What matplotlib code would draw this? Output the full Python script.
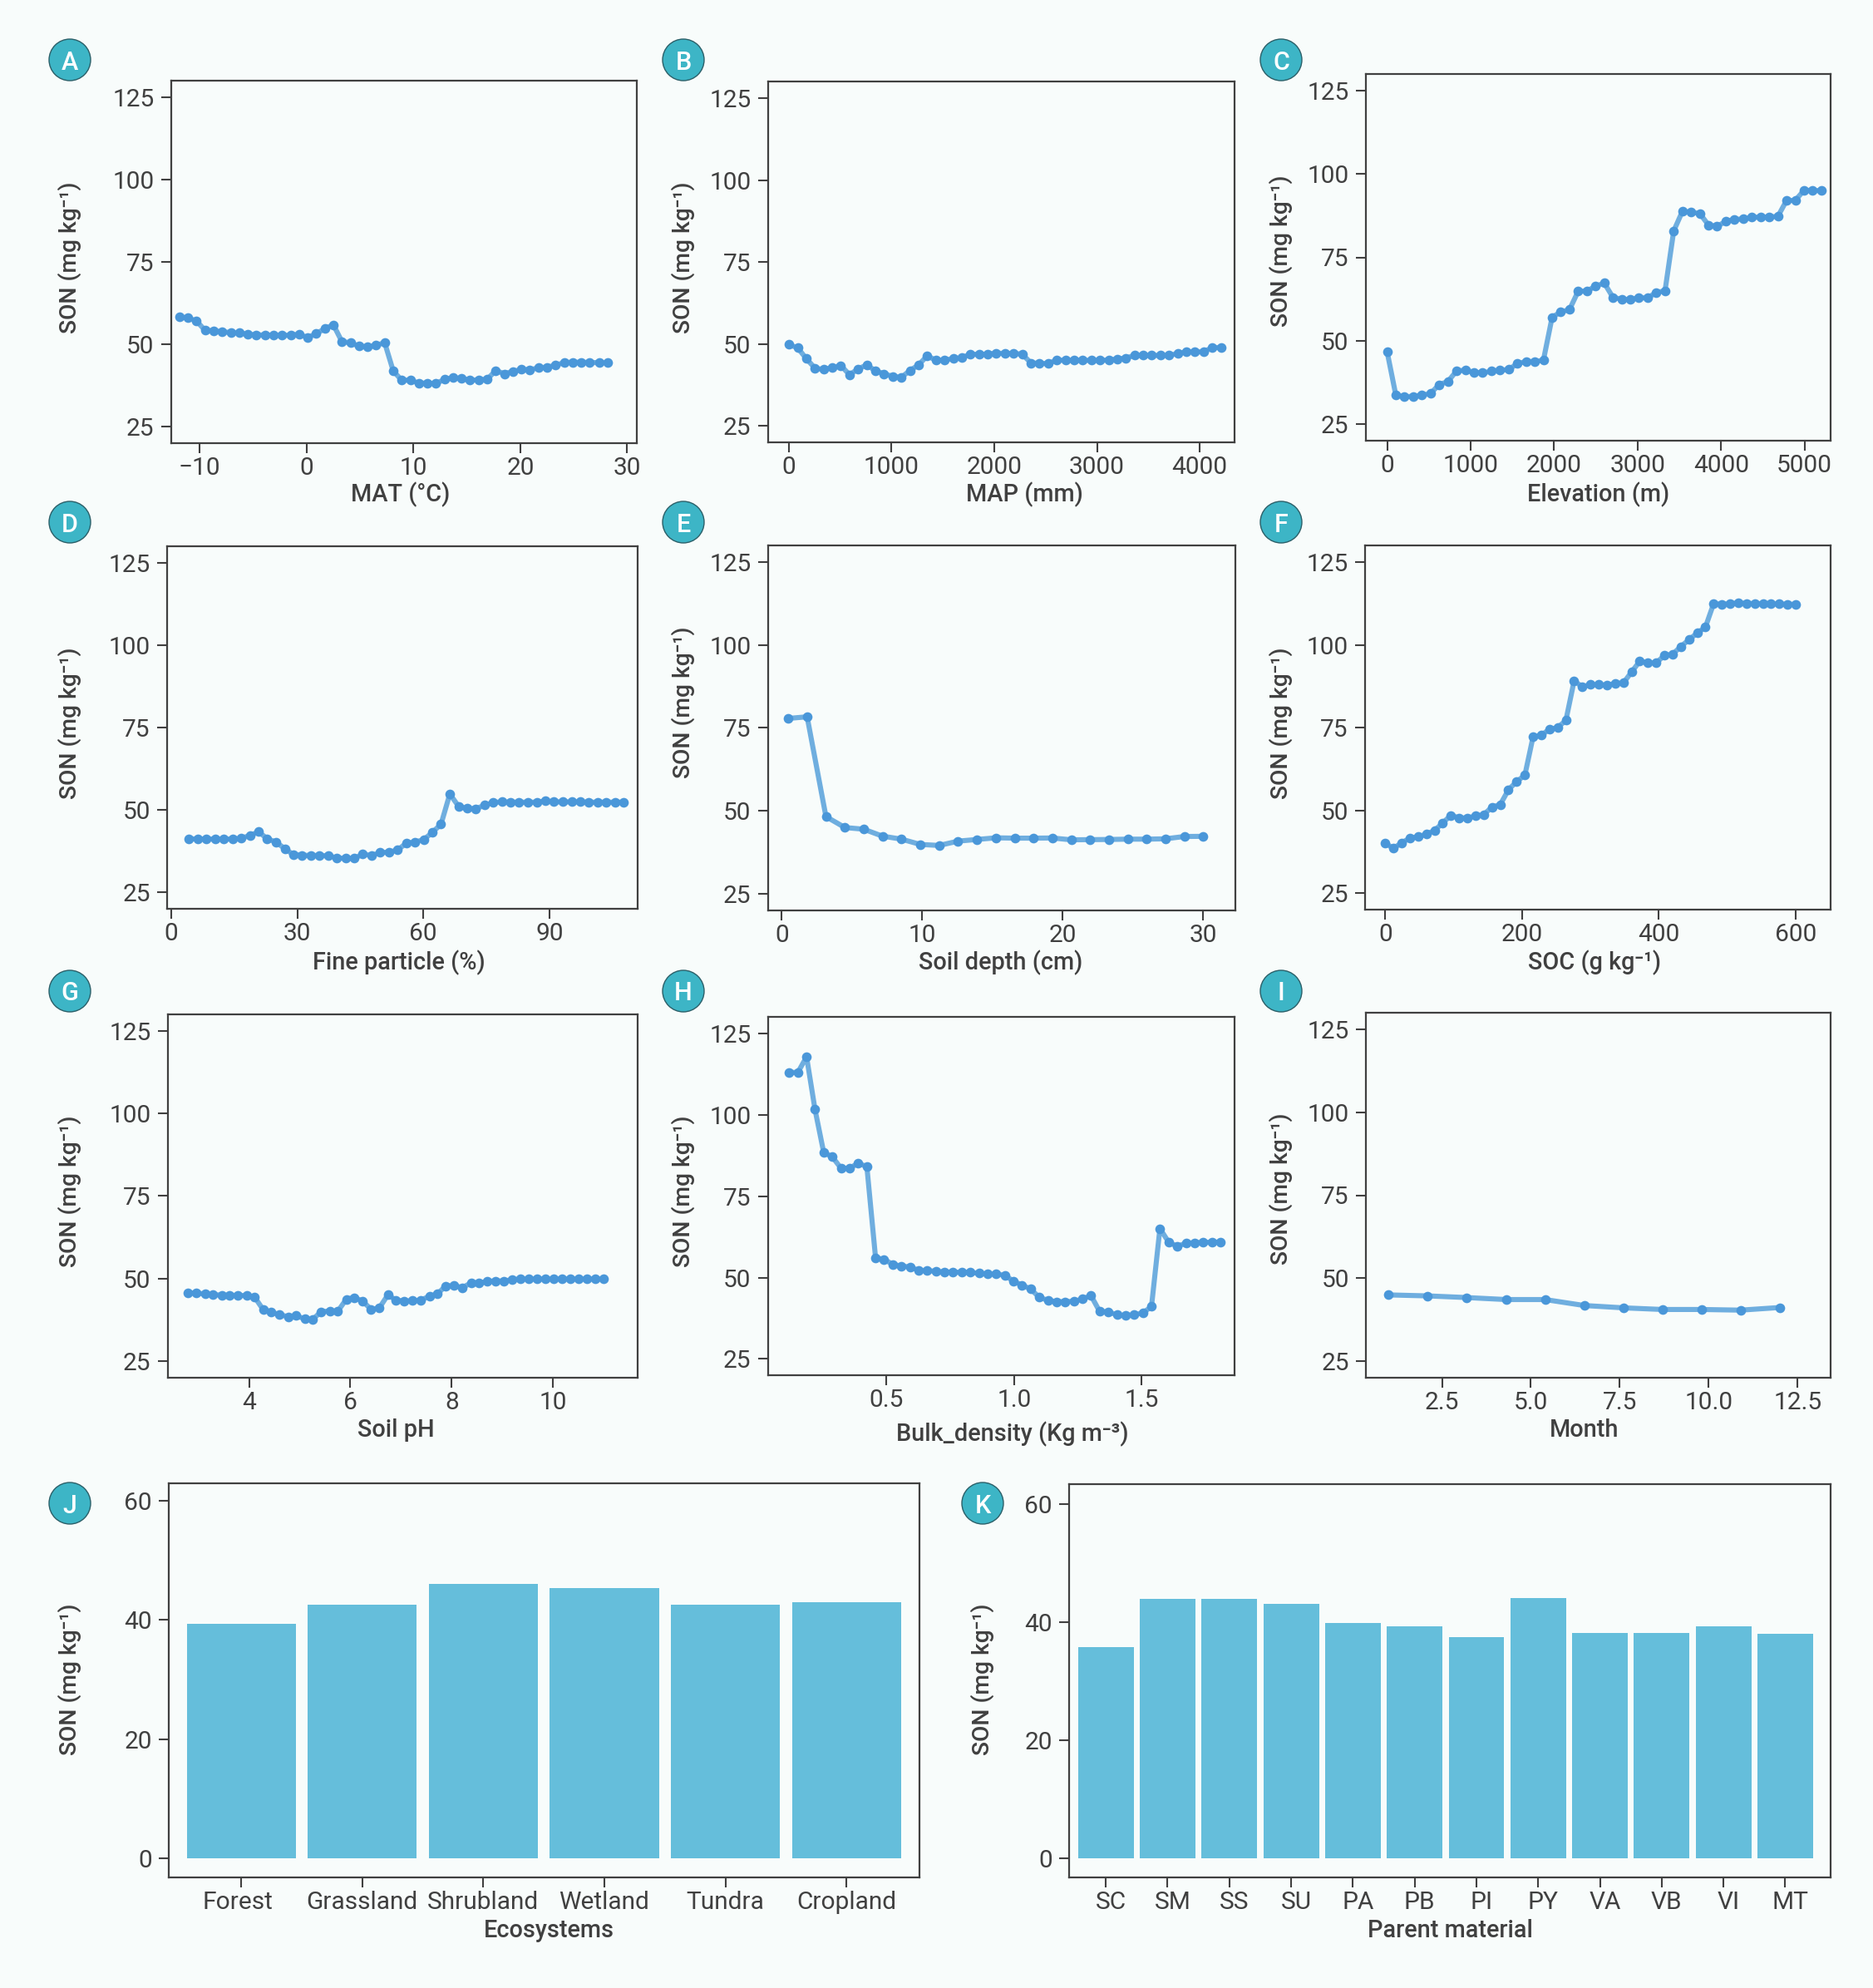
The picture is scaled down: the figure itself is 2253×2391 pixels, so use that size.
import matplotlib
matplotlib.use("Agg")
import matplotlib.pyplot as plt
from matplotlib.patches import Ellipse
from matplotlib.transforms import ScaledTranslation

W, H = 2253, 2391
BG = "#F8FCFB"
INK = "#404040"
LINE = "#6FAEDF"
DOT = "#4A97D9"
BAR = "#65BEDB"
TEAL = "#3DB5C6"

plt.rcParams["font.family"] = ["Roboto", "DejaVu Sans"]

mat_x = [-11.9,-11.1,-10.3,-9.5,-8.7,-7.9,-7.1,-6.3,-5.5,-4.7,-3.9,-3.1,-2.3,-1.5,-0.7,0.1,0.9,1.7,2.5,3.3,4.1,4.9,5.7,6.5,7.3,8.1,8.9,9.7,10.5,11.3,12.1,12.9,13.7,14.5,15.3,16.1,16.9,17.7,18.5,19.3,20.1,20.9,21.7,22.5,23.3,24.1,24.9,25.7,26.5,27.4,28.2]
mat_y = [58.2,58,57,54.2,54,53.8,53.5,53.4,53,52.8,52.8,52.7,52.7,52.7,53,52,53.2,54.7,55.9,50.8,50.4,49.4,49.2,49.6,50.5,41.9,39,39.1,38.1,38.2,38,39.3,39.8,39.6,39,39.2,39.3,42,41,41.7,42.3,42.2,42.8,43,43.6,44.4,44.5,44.5,44.4,44.4,44.3]

map_x = [5,89,173,257,341,425,509,593,677,761,845,929,1013,1097,1181,1265,1349,1433,1517,1601,1685,1769,1853,1937,2021,2105,2189,2273,2357,2441,2525,2609,2693,2777,2861,2945,3029,3113,3197,3281,3365,3449,3533,3617,3701,3785,3869,3953,4037,4121,4205]
map_y = [49.8,48.8,45.5,42.6,42.2,42.8,43.4,40.6,42.4,43.6,41.8,40.9,40.1,39.8,41.9,43.6,46.4,45,45.1,45.5,45.8,46.9,46.8,46.9,47.2,47.1,47.1,46.9,44.2,44.1,44,45.1,45,45,45,45,45,45.1,45.4,45.7,46.5,46.5,46.5,46.5,46.5,47.1,47.6,47.6,47.6,48.9,48.9]

elev_x = [0,104,208,312,416,520,624,728,832,936,1040,1144,1248,1352,1456,1560,1664,1768,1872,1976,2080,2184,2288,2392,2496,2600,2704,2808,2912,3016,3120,3224,3328,3432,3536,3640,3744,3848,3952,4056,4160,4264,4368,4472,4576,4680,4784,4888,4992,5096,5200]
elev_y = [46.7,33.7,33.1,33.3,33.6,34.1,36.8,37.7,40.9,41.1,40.5,40.3,40.8,41.1,41.3,43.1,43.7,43.7,44.1,57,58.6,59.3,64.8,64.9,66.3,67.3,63,62.4,62.3,62.9,62.8,64.5,64.9,82.9,88.8,88.5,88.2,84.7,84.3,85.8,86.4,86.5,87,87.1,87.1,87.3,92.1,92.1,95.1,95.1,95]

fine_x = [4.2,6.3,8.3,10.4,12.5,14.6,16.6,18.7,20.8,22.8,24.9,27,29,31.1,33.2,35.2,37.3,39.4,41.5,43.5,45.6,47.7,49.7,51.8,53.9,55.9,58,60.1,62.2,64.2,66.3,68.4,70.4,72.5,74.6,76.6,78.7,80.8,82.8,84.9,87,89.1,91.1,93.2,95.3,97.3,99.4,101.5,103.5,105.6,107.7]
fine_y = [41.2,41.1,41.1,41.1,41.1,41.1,41.3,42.2,43.3,41.2,40.2,38.2,36.4,36.2,36.1,36.1,36,35.4,35.2,35.2,36.5,36.1,37,37.1,37.8,39.8,40.2,40.9,43.2,45.6,54.8,51,50.4,50.3,51.4,52.2,52.4,52.3,52.3,52.3,52.3,52.7,52.4,52.4,52.4,52.4,52.3,52.3,52.3,52.3,52.3]

depth_x = [0.45,1.8,3.14,4.49,5.83,7.17,8.52,9.86,11.2,12.55,13.89,15.23,16.58,17.92,19.26,20.61,21.95,23.29,24.64,25.98,27.32,28.67,30.0]
depth_y = [77.8,78.3,48.2,44.9,44.4,42.3,41.4,39.8,39.5,40.8,41.3,41.8,41.7,41.7,41.75,41.2,41.25,41.3,41.4,41.4,41.5,42.2,42.25]

soc_x = [0,12,24,36,48,60,72,84,96,108,120,132,144,156,168,180,192,204,216,228,240,252,264,276,288,300,312,324,336,348,360,372,384,396,408,420,432,444,456,468,480,492,504,516,528,540,552,564,576,588,600]
soc_y = [40.05,38.5,40.2,41.6,42,42.8,43.9,46.2,48.5,47.7,47.7,48.3,48.7,51,51.7,56.2,58.7,60.6,72.2,72.7,74.5,75,77.2,89.1,87.4,88,88,87.8,88.4,88.5,91.8,95.1,94.6,94.6,96.8,97.2,99.5,101.6,103.6,105.4,112.5,112.3,112.5,112.7,112.6,112.5,112.5,112.4,112.4,112.3,112.3]

ph_x = [2.8,2.96,3.13,3.29,3.46,3.62,3.78,3.95,4.11,4.28,4.44,4.6,4.77,4.93,5.1,5.26,5.42,5.59,5.75,5.92,6.08,6.24,6.41,6.57,6.74,6.9,7.06,7.23,7.39,7.56,7.72,7.88,8.05,8.21,8.38,8.54,8.7,8.87,9.03,9.2,9.36,9.52,9.69,9.85,10.02,10.18,10.34,10.51,10.67,10.84,11.0]
ph_y = [45.6,45.5,45.3,45.1,44.9,44.9,44.8,44.8,44.3,40.5,39.8,39,38.4,38.7,37.7,37.6,39.9,40.1,40,43.7,44.2,43.1,40.6,41,45,43.4,43.1,43.2,43.4,44.6,45.3,47.7,47.8,47.2,48.6,48.5,49.1,49.2,49.2,49.6,49.8,49.8,49.8,49.8,49.8,49.8,49.8,49.8,49.8,49.8,49.8]

bd_x = [.12,.154,.188,.221,.255,.289,.323,.356,.39,.424,.458,.491,.525,.559,.593,.626,.66,.694,.728,.761,.795,.829,.863,.896,.93,.964,.998,1.031,1.065,1.099,1.133,1.166,1.2,1.234,1.268,1.301,1.335,1.369,1.403,1.436,1.47,1.504,1.538,1.571,1.605,1.639,1.673,1.706,1.74,1.774,1.808]
bd_y = [113.1,113.1,117.9,101.7,88.5,87.1,83.6,83.6,85.2,84.1,56.1,55.6,54.1,53.5,53.3,52.2,52.2,51.9,51.7,51.7,51.6,51.6,51.3,51.1,51.1,50.7,48.9,47.7,46.5,43.9,43,42.6,42.6,42.7,43.4,44.5,39.6,39.4,38.6,38.3,38.6,39.1,41.1,65.1,60.9,59.6,60.6,60.7,60.8,60.9,60.9]

month_x = [1,2.1,3.2,4.3,5.4,6.5,7.6,8.7,9.8,10.9,12]
month_y = [44.9,44.6,44.1,43.5,43.5,41.7,41,40.5,40.5,40.3,41.1]

eco_names = ["Forest","Grassland","Shrubland","Wetland","Tundra","Cropland"]
eco_vals = [39.4,42.6,46,45.3,42.5,43]
pm_names = ["SC","SM","SS","SU","PA","PB","PI","PY","VA","VB","VI","MT"]
pm_vals = [35.7,43.9,43.9,43,39.85,39.3,37.4,44.1,38.2,38.2,39.2,38]

son_ticks = [25,50,75,100,125]
bar_ticks = [0,20,40,60]
son_label = "SON (mg kg\u207b\u00b9)"

fig = plt.figure(figsize=(W/100, H/100), dpi=100, facecolor=BG)

def make_ax(l, r, t, b):
    ax = fig.add_axes([l/W, 1-b/H, (r-l)/W, (b-t)/H], facecolor=BG)
    for s in ax.spines.values():
        s.set_color(INK); s.set_linewidth(1.6)
    ax.tick_params(length=8.5, width=1.5, color=INK, labelcolor=INK, labelsize=21.5)
    ax.tick_params(axis="x", pad=3)
    ax.tick_params(axis="y", pad=6)
    return ax

def labels(ax, box, xlabel, xl_px, yl_px, ylab_y_px, xlab_y_px):
    l, r, t, b = box
    ax.set_xlabel(xlabel, fontsize=20.8, fontweight="medium", color=INK, va="center")
    ax.xaxis.set_label_coords((xl_px-l)/(r-l), (b-xlab_y_px)/(b-t))
    ax.set_ylabel(son_label, fontsize=20.3, fontweight="medium", color=INK, va="center")
    ax.yaxis.set_label_coords((yl_px-l)/(r-l), (b-ylab_y_px)/(b-t))

lines = [
 ("A",(205.6,766,97,533),mat_x,mat_y,(-12.7,30.9),[-10,0,10,20,30],None,"MAT (\u00b0C)",482,84,310,595),
 ("B",(923.7,1485,98,532.3),map_x,map_y,(-201,4338),[0,1000,2000,3000,4000],None,"MAP (mm)",1232,822,310,595),
 ("C",(1642.6,2202,88.8,530.2),elev_x,elev_y,(-258,5311),[0,1000,2000,3000,4000,5000],None,"Elevation (m)",1923,1541,302,595),
 ("D",(201,767,657,1093),fine_x,fine_y,(-1.0,111),[0,30,60,90],None,"Fine particle (%)",480,84,870,1158),
 ("E",(923.6,1486,655.5,1095),depth_x,depth_y,(-1.0,32.3),[0,10,20,30],None,"Soil depth (cm)",1204,822,845,1158),
 ("F",(1642,2202,656,1094.3),soc_x,soc_y,(-29.6,651),[0,200,400,600],None,"SOC (g kg\u207b\u00b9)",1918,1541,870,1158),
 ("G",(201.5,767,1219.5,1657),ph_x,ph_y,(2.39,11.67),[4,6,8,10],None,"Soil pH",476,84,1433,1720),
 ("H",(923.5,1485,1223.3,1654.3),bd_x,bd_y,(0.036,1.863),[0.5,1.0,1.5],["0.5","1.0","1.5"],"Bulk_density (Kg m\u207b\u00b3)",1218,822,1433,1725),
 ("I",(1643,2202,1218,1657),month_x,month_y,(0.36,13.43),[2.5,5,7.5,10,12.5],["2.5","5.0","7.5","10.0","12.5"],"Month",1906,1541,1430,1720),
]
for tag, box, xs, ys, xl, xt, xtl, xlabel, xlab_x, ylab_x, ylab_y, xlab_y in lines:
    ax = make_ax(*box)
    ax.plot(xs, ys, color=LINE, lw=4.4, solid_joinstyle="round", zorder=2)
    ax.plot(xs, ys, ls="none", marker="o", ms=8.4, mfc=DOT, mec=DOT, mew=0, zorder=3)
    ax.set_xlim(*xl); ax.set_ylim(19.9, 130.1)
    ax.set_xticks(xt)
    if xtl: ax.set_xticklabels(xtl)
    ax.set_yticks(son_ticks)
    labels(ax, box, xlabel, xlab_x, ylab_x, ylab_y, xlab_y)

bars = [
 ((202.8,1105.6,1784,2258),eco_names,eco_vals,(-0.6,5.6),(-3.2,62.9),"Ecosystems",660,84,2020,2322,{"Forest":-4.5}),
 ((1286.2,2201.7,1784.5,2258),pm_names,pm_vals,(-0.592,11.73),(-3.23,63.4),"Parent material",1744,1182,2020,2322,{n:6 for n in pm_names}),
]
for box, names, vals, xl, yl, xlabel, xlab_x, ylab_x, ylab_y, xlab_y, shifts in bars:
    ax = make_ax(*box)
    ax.bar(range(len(names)), vals, width=0.9, color=BAR, linewidth=0)
    ax.set_xlim(*xl); ax.set_ylim(*yl)
    ax.set_xticks(range(len(names))); ax.set_xticklabels(names)
    ax.set_yticks(bar_ticks)
    for lab in ax.get_xticklabels():
        dx = shifts.get(lab.get_text(), 0)
        if dx:
            lab.set_transform(lab.get_transform() + ScaledTranslation(dx/100, 0, fig.dpi_scale_trans))
    labels(ax, box, xlabel, xlab_x, ylab_x, ylab_y, xlab_y)

badges = [("A",84,72),("B",822,72),("C",1541,72),("D",84,628),("E",822,628),("F",1541,628),
          ("G",84,1192),("H",822,1192),("I",1541,1192),("J",84,1808),("K",1182,1808)]
for t, cx, cy in badges:
    fig.add_artist(Ellipse((cx/W, 1-cy/H), 50/W, 50/H, transform=fig.transFigure,
                           facecolor=TEAL, edgecolor="#2B5F68", linewidth=1.0))
    fig.text(cx/W, 1-cy/H, t, color="white", fontsize=22, fontweight="medium", ha="center", va="center_baseline")

fig.savefig("out.png", dpi=100, facecolor=BG)
